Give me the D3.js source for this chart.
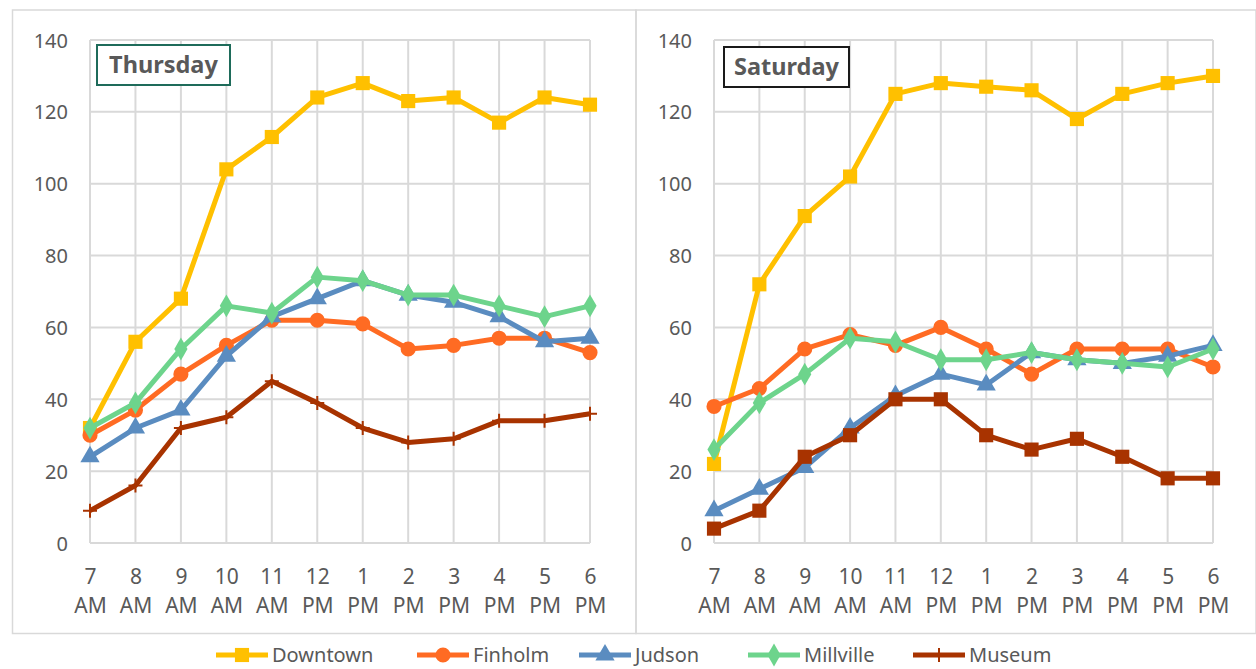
<!DOCTYPE html>
<html>
<head>
<meta charset="utf-8">
<script src="https://cdn.jsdelivr.net/npm/d3@7"></script>
<style>
  html, body { margin: 0; padding: 0; background: #fff; }
  svg { display: block; }
  text { font-family: "Noto Sans", "Liberation Sans", sans-serif; }
</style>
</head>
<body>
<svg id="chart" width="1256" height="669"></svg>
<script>
// Hourly visitor counts by location
const hours = ["7|AM", "8|AM", "9|AM", "10|AM", "11|AM", "12|PM", "1|PM", "2|PM", "3|PM", "4|PM", "5|PM", "6|PM"];
const yTicks = [0, 20, 40, 60, 80, 100, 120, 140];
const locations = ["Downtown", "Finholm", "Judson", "Millville", "Museum"];
const colors = ["#FFC000", "#FF6B23", "#5A8CC0", "#6DD48C", "#A83300"];

const thuDowntown  = [32, 56, 68, 104, 113, 124, 128, 123, 124, 117, 124, 122];
const thuFinholm   = [30, 37, 47, 55, 62, 62, 61, 54, 55, 57, 57, 53];
const thuJudson    = [24, 32, 37, 52, 63, 68, 73, 69, 67, 63, 56, 57];
const thuMillville = [32, 39, 54, 66, 64, 74, 73, 69, 69, 66, 63, 66];
const thuMuseum    = [9, 16, 32, 35, 45, 39, 32, 28, 29, 34, 34, 36];

const satDowntown  = [22, 72, 91, 102, 125, 128, 127, 126, 118, 125, 128, 130];
const satFinholm   = [38, 43, 54, 58, 55, 60, 54, 47, 54, 54, 54, 49];
const satJudson    = [9, 15, 21, 32, 41, 47, 44, 53, 51, 50, 52, 55];
const satMillville = [26, 39, 47, 57, 56, 51, 51, 53, 51, 50, 49, 54];
const satMuseum    = [4, 9, 24, 30, 40, 40, 30, 26, 29, 24, 18, 18];

const panels = [
  { title: "Thursday", box: "#1E6B5A", left: 12.5, right: 636, x0: 90, x1: 590,
    series: [thuDowntown, thuFinholm, thuJudson, thuMillville, thuMuseum],
    symbols: ["square", "circle", "triangle", "diamond", "plus"],
    titleRect: [97, 45, 133, 40] },
  { title: "Saturday", box: "#1A1A1A", left: 636, right: 1256, x0: 714, x1: 1213,
    series: [satDowntown, satFinholm, satJudson, satMillville, satMuseum],
    symbols: ["square", "circle", "triangle", "diamond", "square"],
    titleRect: [724, 47, 125, 40] }
];

const svg = d3.select("#chart");
const frameTop = 10, frameBottom = 633.5;
const yTop = 40, yBottom = 543;
const y = d3.scaleLinear().domain([0, 140]).range([yBottom, yTop]);

// Marker path for each symbol type
function markerPath(kind) {
  switch (kind) {
    case "square": return d3.symbol(d3.symbolSquare, 200)();
    case "circle": return d3.symbol(d3.symbolCircle, 180)();
    case "triangle": return d3.symbol(d3.symbolTriangle, 160)();
    case "diamond": return d3.symbol(d3.symbolDiamond, 150)();
    default: return "M-7,0H7M0,-7V7";
  }
}

panels.forEach(p => {
  const g = svg.append("g");
  // panel frame
  g.append("rect")
    .attr("x", p.left).attr("y", frameTop)
    .attr("width", p.right - p.left).attr("height", frameBottom - frameTop)
    .attr("fill", "none").attr("stroke", "#d9d9d9").attr("stroke-width", 1.5);

  const x = d3.scalePoint().domain(hours).range([p.x0, p.x1]);

  // horizontal gridlines
  g.append("g").selectAll("line").data(yTicks).join("line")
    .attr("x1", p.x0).attr("x2", p.x1)
    .attr("y1", d => y(d)).attr("y2", d => y(d))
    .attr("stroke", "#d9d9d9").attr("stroke-width", 2);
  // vertical gridlines at each category
  g.append("g").selectAll("line").data(hours).join("line")
    .attr("x1", d => x(d)).attr("x2", d => x(d))
    .attr("y1", yTop).attr("y2", yBottom)
    .attr("stroke", "#d9d9d9").attr("stroke-width", 2);

  // y axis labels
  const yAxis = d3.axisLeft(y).tickValues(yTicks).tickSize(0).tickPadding(0);
  const ya = g.append("g").attr("transform", `translate(${p.x0 - 22},0)`).call(yAxis);
  ya.select(".domain").remove();
  ya.selectAll("text").attr("font-size", 20).attr("fill", "#595959")
    .attr("font-family", "'Noto Sans', sans-serif").attr("dy", "0.35em");

  // x axis labels (two lines)
  const xAxis = d3.axisBottom(x).tickSize(0).tickFormat("");
  const xa = g.append("g").attr("transform", `translate(0,${yBottom})`).call(xAxis);
  xa.select(".domain").remove();
  xa.selectAll(".tick").each(function(d) {
    const parts = d.split("|");
    const t = d3.select(this).select("text").text(null)
      .attr("font-size", 21).attr("fill", "#595959").attr("y", 0).attr("dy", null)
      .attr("font-family", "'Noto Sans', sans-serif");
    t.append("tspan").attr("x", 0).attr("y", 41).text(parts[0]);
    t.append("tspan").attr("x", 0).attr("y", 70).text(parts[1]);
  });

  // series lines and markers
  const line = d3.line().x((d, i) => x(hours[i])).y(d => y(d));
  p.series.forEach((vals, si) => {
    const sg = g.append("g");
    sg.append("path").datum(vals)
      .attr("d", line).attr("fill", "none")
      .attr("stroke", colors[si]).attr("stroke-width", 5)
      .attr("stroke-linejoin", "round");
    const kind = p.symbols[si];
    sg.selectAll("path.m").data(vals).join("path").attr("class", "m")
      .attr("d", markerPath(kind))
      .attr("transform", (d, i) => `translate(${x(hours[i])},${y(d)})`)
      .attr("fill", kind === "plus" ? "none" : colors[si])
      .attr("stroke", colors[si])
      .attr("stroke-width", kind === "plus" ? 2 : 0);
  });

  // title box
  const [tx, ty, tw, th] = p.titleRect;
  g.append("rect").attr("x", tx).attr("y", ty).attr("width", tw).attr("height", th)
    .attr("fill", "#fff").attr("stroke", p.box).attr("stroke-width", 2);
  g.append("text").attr("x", tx + tw / 2).attr("y", ty + th / 2).attr("dy", "0.36em")
    .attr("text-anchor", "middle").attr("font-size", 23.5).attr("font-weight", "bold")
    .attr("fill", "#595959").text(p.title);
});

// legend
const legendX = [216, 417, 579, 748, 913];
const legendY = 655;
const lg = svg.append("g");
locations.forEach((name, i) => {
  const gx = legendX[i];
  const item = lg.append("g");
  item.append("line").attr("x1", gx).attr("x2", gx + 52)
    .attr("y1", legendY).attr("y2", legendY)
    .attr("stroke", colors[i]).attr("stroke-width", 5);
  const kind = ["square", "circle", "triangle", "diamond", "plus"][i];
  item.append("path").attr("d", markerPath(kind))
    .attr("transform", `translate(${gx + 26},${legendY})`)
    .attr("fill", kind === "plus" ? "none" : colors[i])
    .attr("stroke", colors[i]).attr("stroke-width", kind === "plus" ? 2 : 0);
  item.append("text").attr("x", gx + 56).attr("y", legendY).attr("dy", "0.35em")
    .attr("font-size", 20).attr("fill", "#595959")
    .attr("font-family", "'Liberation Sans Narrow', 'Roboto', sans-serif")
    .text(name);
});
</script>
</body>
</html>
